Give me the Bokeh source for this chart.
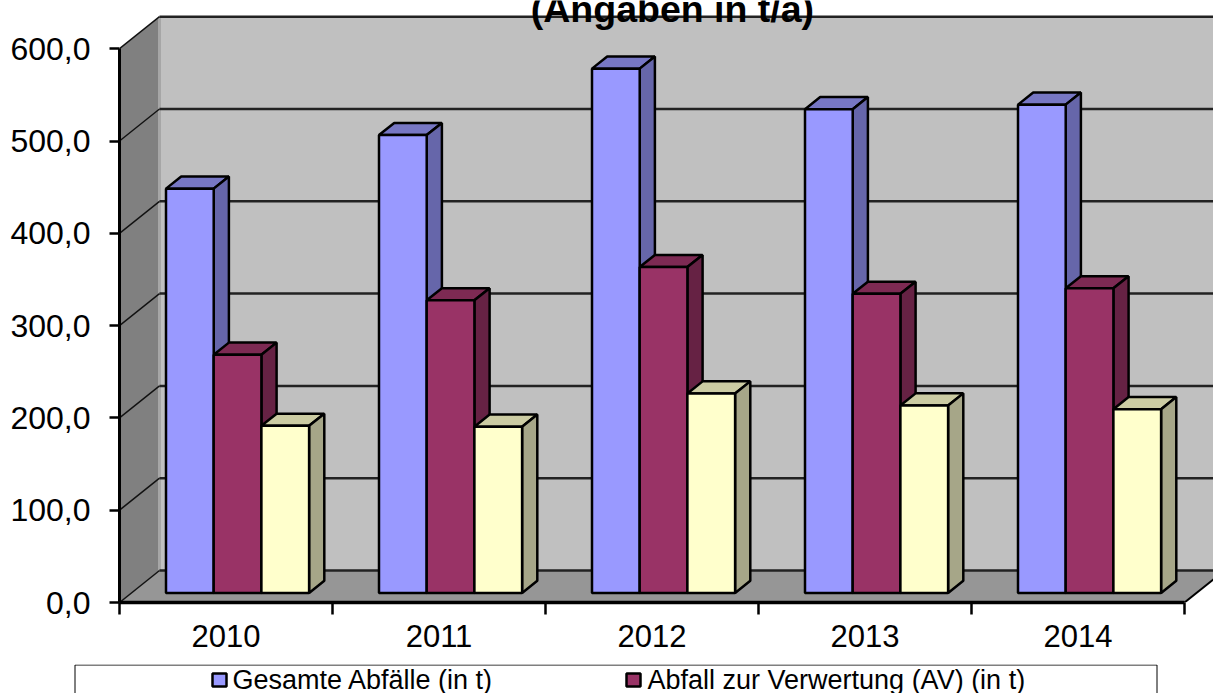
from bokeh.embed import file_html
from bokeh.layouts import column, row
from bokeh.resources import INLINE
from bokeh.plotting import figure
from bokeh.models import FixedTicker, LinearAxis, Range1d
from bokeh.core.properties import value

years = ["2010", "2011", "2012", "2013", "2014"]
y_ticks = [0, 100, 200, 300, 400, 500, 600]
y_tick_labels = ["0,0", "100,0", "200,0", "300,0", "400,0", "500,0", "600,0"]
gesamt = [438, 496, 568, 524, 529]
verwertung = [258, 317, 353, 324, 330]
beseitigung = [181, 180, 216, 203, 199]

series = [
    ("Gesamte Abfälle (in t)", gesamt, "#9999FF", "#7777C4", "#6666AA"),
    ("Abfall zur Verwertung (AV) (in t)", verwertung, "#993366", "#7D2A53", "#662244"),
    (None, beseitigung, "#FFFFCC", "#CCCCA3", "#A6A688"),
]

FONT = "Liberation Sans"
CAT_PX, VAL_PX = 213.0, 0.923          # pixels per category / per unit
FRAME_W, FRAME_H = 1094, 602
DEPTH_X, DEPTH_Y = 40 / CAT_PX, 32 / VAL_PX   # full oblique offset of the chart box
BAR_W = 47.7 / CAT_PX
GAP = 34.5 / CAT_PX
BAR_NEAR, BAR_FAR = 0.30, 0.68         # bar depth as a share of the box depth
MAX_Y, N = y_ticks[-1], len(years)

p = figure(width=1213, height=664, output_backend="svg", toolbar_location=None,
           x_range=Range1d(0, FRAME_W / CAT_PX), y_range=Range1d(0, FRAME_H / VAL_PX),
           frame_width=FRAME_W, frame_height=FRAME_H,
           min_border_left=119, min_border_right=0, min_border_top=0, min_border_bottom=62,
           x_axis_type=None, y_axis_type=None, outline_line_color=None,
           background_fill_color="white", border_fill_color="white")
p.grid.visible = False

# Chart box: floor, side wall and back wall
p.patch([DEPTH_X, DEPTH_X + N, DEPTH_X + N, DEPTH_X],
        [DEPTH_Y, DEPTH_Y, DEPTH_Y + MAX_Y, DEPTH_Y + MAX_Y], fill_color="#C0C0C0", line_color=None)
p.patch([0, DEPTH_X, DEPTH_X, 0], [0, DEPTH_Y, DEPTH_Y + MAX_Y, MAX_Y],
        fill_color="#808080", line_color=None)
p.patch([0, N, N + DEPTH_X, DEPTH_X], [0, 0, DEPTH_Y, DEPTH_Y], fill_color="#969696", line_color=None)
p.segment([DEPTH_X], [DEPTH_Y], [DEPTH_X], [DEPTH_Y + MAX_Y], line_color="#A6A6A6", line_width=3)

# Gridlines run along the back wall and down the side wall
p.multi_line([[DEPTH_X, DEPTH_X + N] for _ in y_ticks],
             [[t + DEPTH_Y, t + DEPTH_Y] for t in y_ticks], line_color="#222222", line_width=2.5)
p.multi_line([[0, DEPTH_X] for _ in y_ticks],
             [[t, t + DEPTH_Y] for t in y_ticks], line_color="#111111", line_width=1.5)
p.line([N, N + DEPTH_X], [0, DEPTH_Y], line_color="black", line_width=2)

# Bars: top and side faces first, then the front, so neighbours overlap correctly
swatches = []
for s, (label, values, front, top, side) in enumerate(series):
    dx0, dy0 = BAR_NEAR * DEPTH_X, BAR_NEAR * DEPTH_Y
    dx1, dy1 = BAR_FAR * DEPTH_X, BAR_FAR * DEPTH_Y
    lefts = [i + GAP + dx0 + s * BAR_W for i in range(N)]
    rights = [x + BAR_W for x in lefts]
    shift_x, shift_y = dx1 - dx0, dy1 - dy0
    p.patches([[l, r, r + shift_x, l + shift_x] for l, r in zip(lefts, rights)],
              [[v + dy0, v + dy0, v + dy1, v + dy1] for v in values],
              fill_color=top, line_color="black", line_width=2.5)
    p.patches([[r, r + shift_x, r + shift_x, r] for r in rights],
              [[dy0, dy1, v + dy1, v + dy0] for v in values],
              fill_color=side, line_color="black", line_width=2.5)
    p.quad(left=lefts, right=rights, bottom=[dy0] * N, top=[v + dy0 for v in values],
           fill_color=front, line_color="black", line_width=2.5)
    if label:
        swatches.append((label, front))

# Value axis
y_axis = LinearAxis(ticker=FixedTicker(ticks=y_ticks), bounds=(0, MAX_Y),
                    major_label_overrides=dict(zip(y_ticks, y_tick_labels)))
y_axis.axis_line_color = "black"
y_axis.axis_line_width = 3
y_axis.major_tick_line_color = "black"
y_axis.major_tick_line_width = 2.5
y_axis.major_tick_in = 0
y_axis.major_tick_out = 10
y_axis.minor_tick_line_color = None
y_axis.major_label_standoff = 19
y_axis.major_label_text_font = FONT
y_axis.major_label_text_font_size = "32px"
y_axis.major_label_text_color = "black"
p.add_layout(y_axis, "left")

# Year axis: labels sit between the tick marks
centres = [i + 0.5 for i in range(N)]
x_axis = LinearAxis(ticker=FixedTicker(ticks=centres, minor_ticks=list(range(N + 1))), bounds=(0, N),
                    major_label_overrides=dict(zip(centres, years)))
x_axis.axis_line_color = "black"
x_axis.axis_line_width = 3.5
x_axis.major_tick_line_color = None
x_axis.major_tick_in = 0
x_axis.major_tick_out = 12
x_axis.minor_tick_line_color = "black"
x_axis.minor_tick_line_width = 2.5
x_axis.minor_tick_in = 0
x_axis.minor_tick_out = 12
x_axis.major_label_standoff = 10
x_axis.major_label_text_font = FONT
x_axis.major_label_text_font_size = "31px"
x_axis.major_label_text_color = "black"
p.add_layout(x_axis, "below")

# Title, cut off by the top of the page
p.text(x=[2.596], y=[643], text=["(Angaben in t/a)"], text_font=value(FONT), text_font_style="bold",
       text_font_size="37.5px", text_color="black", text_align="center", text_baseline="alphabetic")

# Legend strip below the chart; its box runs off the bottom of the page
leg = figure(width=1213, height=29, output_backend="svg", toolbar_location=None,
             x_range=Range1d(0, 1213), y_range=Range1d(29, 0), frame_width=1213, frame_height=29,
             min_border=0, x_axis_type=None, y_axis_type=None, outline_line_color=None,
             background_fill_color="white", border_fill_color="white")
leg.grid.visible = False
leg.quad(left=[74.5], right=[1156.5], top=[0.5], bottom=[40], fill_color="white",
         line_color="black", line_width=1)
swatch_x = [212, 626]
text_x = [232, 647]
for (label, colour), sx, tx in zip(swatches, swatch_x, text_x):
    leg.quad(left=[sx], right=[sx + 14], top=[9], bottom=[22], fill_color=colour,
             line_color="black", line_width=2.5)
    leg.text(x=[tx], y=[15], text=[label], text_font=value(FONT), text_font_size="27px",
             text_color="black", text_align="left", text_baseline="middle")

page = column(row(p), row(leg), spacing=0)
open("out.html", "w").write(file_html(page, INLINE))
